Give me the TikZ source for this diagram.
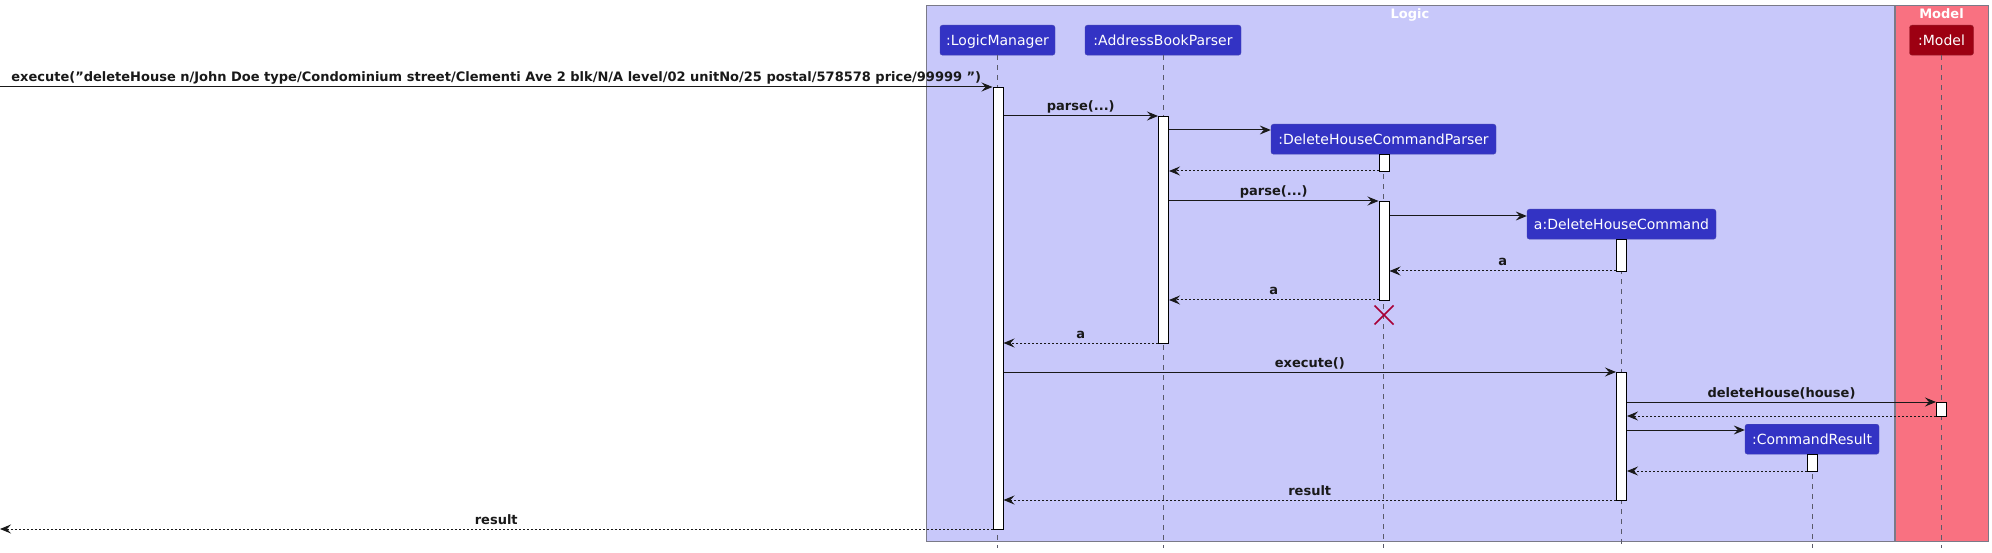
\documentclass[tikz,border=0pt]{standalone}
\usepackage{fontspec}
\setmainfont{DejaVu Sans}
\usetikzlibrary{arrows.meta,calc}
\definecolor{logicC}{HTML}{3333C4}
\definecolor{logicT}{HTML}{C8C8FA}
\definecolor{modelC}{HTML}{9D0012}
\definecolor{modelT}{HTML}{F97181}
\definecolor{frameB}{HTML}{7A7A88}
\definecolor{destroyC}{HTML}{A80036}
\definecolor{lifeC}{HTML}{5A5A6A}
\begin{document}
\begin{tikzpicture}[x=1pt,y=-1pt,
  frame/.style={draw=frameB, line width=1pt},
  ftitle/.style={font=\bfseries\fontsize{13}{15}\selectfont, text=white, anchor=base, inner sep=0pt},
  ptc/.style={rectangle, rounded corners=2.5pt, draw=logicC!75!gray, fill=logicC, text=white,
    font=\fontsize{14}{16}\selectfont, minimum height=30pt, inner sep=0pt,
    text height=10.2pt, text depth=0pt, anchor=north},
  mptc/.style={ptc, draw=modelC!75!gray, fill=modelC},
  act/.style={rectangle, draw=black, fill=white, line width=1pt, minimum width=10pt, inner sep=0pt, anchor=north},
  life/.style={draw=lifeC, dash pattern=on 5pt off 5pt, line width=0.8pt},
  msg/.style={draw=black!90, line width=1pt, -{Stealth[length=11pt,width=9pt,inset=4pt]}},
  ret/.style={msg, dash pattern=on 2pt off 2pt},
  lbl/.style={font=\bfseries\fontsize{13}{15}\selectfont, anchor=base, yshift=5pt, inner sep=0pt, midway, text=black!90},
  destroy/.style={draw=destroyC, line width=1.6pt}
]
\useasboundingbox (0,0) rectangle (1992,553);
% frames
\draw[frame, fill=logicT] (926,6) rectangle (1894,541);
\draw[frame, fill=modelT] (1895,6) rectangle (1988,541);
\node[ftitle] (tLogic) at (1410,18.5) {Logic};
\node[ftitle] (tModel) at (1941.5,18.5) {Model};

% participants
\node[ptc, minimum width=115pt] (lm) at (997.5,25) {:LogicManager};
\node[ptc, minimum width=156pt] (abp) at (1163,25) {:AddressBookParser};
\node[ptc, minimum width=225pt] (dhcp) at (1383.5,124) {:DeleteHouseCommandParser};
\node[ptc, minimum width=189pt] (dhc) at (1621.5,209) {a:DeleteHouseCommand};
\node[ptc, minimum width=134pt] (cr) at (1812,424) {:CommandResult};
\node[mptc, minimum width=64pt] (mdl) at (1941.5,25) {:Model};

% lifelines
\draw[life] (lm.south) -- (lm.south |- 0,548);
\draw[life] (abp.south) -- (abp.south |- 0,548);
\draw[life] (dhcp.south) -- (dhcp.south |- 0,548);
\draw[life] (dhc.south) -- (dhc.south |- 0,548);
\draw[life] (cr.south) -- (cr.south |- 0,548);
\draw[life] (mdl.south) -- (mdl.south |- 0,548);

% activations
\node[act, minimum height=442pt] (lmA) at (998,87) {};
\node[act, minimum height=227pt] (abpA) at (1163.5,116) {};
\node[act, minimum height=17pt] (dhcpA1) at (1384,154) {};
\node[act, minimum height=99pt] (dhcpA2) at (1384,201) {};
\node[act, minimum height=32pt] (dhcA1) at (1621.5,239) {};
\node[act, minimum height=128pt] (dhcA2) at (1621.5,372) {};
\node[act, minimum height=14pt] (mdlA) at (1941.5,402) {};
\node[act, minimum height=17pt] (crA) at (1812,454) {};

% free ends
\coordinate (inL) at (0,87);
\coordinate (outL) at (0,529);

% messages
\draw[msg] (inL) -- (lmA.west |- 0,87)
  node[lbl] {execute(\symbol{34}deleteHouse n/John Doe type/Condominium street/Clementi Ave 2 blk/N/A level/02 unitNo/25 postal/578578 price/99999 \symbol{34})};
\draw[msg] (lmA.east |- 0,116) -- (abpA.west |- 0,116) node[lbl] {parse(...)};
\draw[msg] (abpA.east |- 0,130) -- (dhcp.west |- 0,130);
\draw[ret] (dhcpA1.west |- 0,171) -- (abpA.east |- 0,171);
\draw[msg] (abpA.east |- 0,201) -- (dhcpA2.west |- 0,201) node[lbl] {parse(...)};
\draw[msg] (dhcpA2.east |- 0,216) -- (dhc.west |- 0,216);
\draw[ret] (dhcA1.west |- 0,271) -- (dhcpA2.east |- 0,271) node[lbl] {a};
\draw[ret] (dhcpA2.west |- 0,300) -- (abpA.east |- 0,300) node[lbl] {a};
\draw[ret] (abpA.west |- 0,343) -- (lmA.east |- 0,343) node[lbl] {a};
\draw[msg] (lmA.east |- 0,372) -- (dhcA2.west |- 0,372) node[lbl] {execute()};
\draw[msg] (dhcA2.east |- 0,402) -- (mdlA.west |- 0,402) node[lbl] {deleteHouse(house)};
\draw[ret] (mdlA.west |- 0,416) -- (dhcA2.east |- 0,416);
\draw[msg] (dhcA2.east |- 0,430) -- (cr.west |- 0,430);
\draw[ret] (crA.west |- 0,471) -- (dhcA2.east |- 0,471);
\draw[ret] (dhcA2.west |- 0,500) -- (lmA.east |- 0,500) node[lbl] {result};
\draw[ret] (lmA.west |- 0,529) -- (outL) node[lbl] {result};

% destroy mark
\coordinate (dx) at (1384,315);
\draw[destroy] ($(dx)+(-9.5,-9.5)$) -- ($(dx)+(9.5,9.5)$);
\draw[destroy] ($(dx)+(-9.5,9.5)$) -- ($(dx)+(9.5,-9.5)$);
\end{tikzpicture}
\end{document}
